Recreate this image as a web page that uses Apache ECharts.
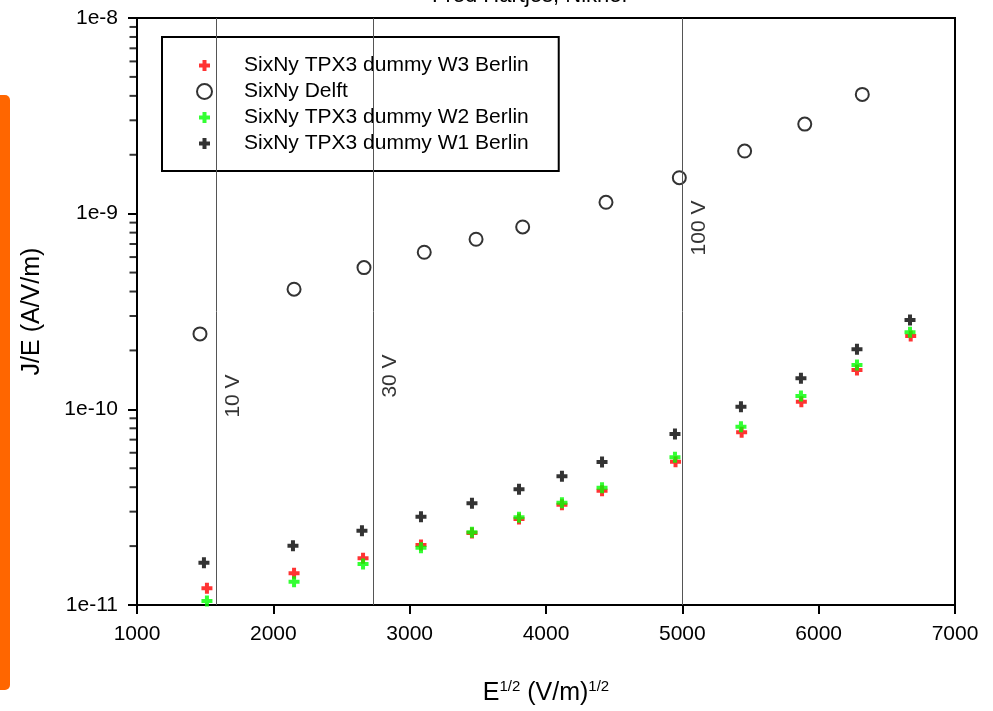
<!DOCTYPE html>
<html><head><meta charset="utf-8">
<script src="https://cdn.jsdelivr.net/npm/echarts@6/dist/echarts.min.js"></script>
<style>html,body{margin:0;padding:0;background:#fff}#c{width:993px;height:711px}</style>
</head><body><div id="c"></div>
<script>
// ---- data ----
const seriesNames = ['SixNy TPX3 dummy W3 Berlin', 'SixNy Delft', 'SixNy TPX3 dummy W2 Berlin', 'SixNy TPX3 dummy W1 Berlin'];
const w3X = [1513, 2152, 2658, 3083, 3457, 3802, 4117, 4411, 4950, 5435, 5873, 6281, 6675];
const w3Y = [1.218e-11, 1.452e-11, 1.733e-11, 2.026e-11, 2.333e-11, 2.752e-11, 3.256e-11, 3.84e-11, 5.40e-11, 7.63e-11, 1.094e-10, 1.589e-10, 2.37e-10];
const delftX = [1462, 2152, 2665, 3107, 3487, 3829, 4440, 4978, 5457, 5898, 6320];
const delftY = [2.43e-10, 4.11e-10, 5.30e-10, 6.35e-10, 7.40e-10, 8.55e-10, 1.143e-9, 1.527e-9, 2.09e-9, 2.87e-9, 4.07e-9];
const w2X = [1513, 2152, 2658, 3083, 3457, 3802, 4117, 4411, 4946, 5430, 5870, 6281, 6670];
const w2Y = [1.048e-11, 1.315e-11, 1.621e-11, 1.963e-11, 2.353e-11, 2.807e-11, 3.333e-11, 3.977e-11, 5.69e-11, 8.15e-11, 1.170e-10, 1.685e-10, 2.475e-10];
const w1X = [1491, 2144, 2650, 3083, 3457, 3802, 4117, 4411, 4946, 5430, 5870, 6281, 6670];
const w1Y = [1.645e-11, 2.009e-11, 2.398e-11, 2.827e-11, 3.31e-11, 3.90e-11, 4.55e-11, 5.38e-11, 7.48e-11, 1.031e-10, 1.441e-10, 2.026e-10, 2.86e-10];
// voltage reference lines
const vLineX = [1580, 2730, 5000];
const vLineLabels = ['10 V', '30 V', '100 V'];
const vLabelY = [1.17e-10, 1.48e-10, 8.45e-10];
// axis ticks
const xTickMin = 1000, xTickMax = 7000, xTickStep = 1000;
const yTickLabels = ['1e-11', '1e-10', '1e-9', '1e-8'];
const yDecades = [-11, -10, -9];
const yMinorMantissas = [2, 3, 4, 5, 6, 7, 8, 9];

const zip = (xs, ys) => xs.map((x, i) => [x, ys[i]]);
const minorVals = [];
yDecades.forEach(d => yMinorMantissas.forEach(m => minorVals.push([xTickMin, m * Math.pow(10, d)])));
const PLUS = 'path://M0,0M15,15M5.5,2h4v3.5h3.5v4h-3.5v3.5h-4v-3.5h-3.5v-4h3.5z';
const FONT = 'Liberation Sans, Arial, sans-serif';

const chart = echarts.init(document.getElementById('c'), null, {renderer: 'canvas'});
chart.setOption({
  animation: false,
  backgroundColor: '#fff',
  title: {
    text: 'Fred Hartjes, Nikhef', left: 432, top: -15, padding: 0,
    textStyle: {fontFamily: FONT, fontSize: 22, fontWeight: 'normal', color: '#000'}
  },
  graphic: [{
    type: 'rect', left: -6, top: 95, shape: {width: 16, height: 595, r: 5},
    style: {fill: '#FF6600'}, silent: true
  }],
  grid: {left: 137, right: 38, top: 18, bottom: 106, show: true, borderColor: '#000', borderWidth: 2, backgroundColor: 'transparent'},
  legend: {
    orient: 'vertical', left: 162, top: 37,
    padding: [18, 30, 17, 34],
    itemWidth: 15, itemHeight: 15, itemGap: 5,
    borderColor: '#000', borderWidth: 2, backgroundColor: '#fff',
    textStyle: {fontFamily: FONT, fontSize: 21, color: '#000', padding: [0, 0, 0, 27]},
    data: seriesNames
  },
  xAxis: {
    type: 'value', min: xTickMin, max: xTickMax, interval: xTickStep,
    name: '{n|E}{s|1/2}{n| (V/m)}{s|1/2}', nameLocation: 'middle', nameGap: 74,
    nameTextStyle: {rich: {
      n: {fontFamily: FONT, fontSize: 25, color: '#000', verticalAlign: 'bottom'},
      s: {fontFamily: FONT, fontSize: 15, color: '#000', verticalAlign: 'bottom', padding: [0, 0, 12, 0]}
    }},
    axisLine: {show: true, lineStyle: {color: '#000', width: 2}},
    axisTick: {show: true, inside: false, length: 9, lineStyle: {color: '#000', width: 2}},
    axisLabel: {fontFamily: FONT, fontSize: 21, color: '#000', margin: 19, formatter: v => String(v)},
    splitLine: {show: false}
  },
  yAxis: {
    type: 'log', logBase: 10, min: 1e-11, max: 1e-8,
    name: 'J/E (A/V/m)', nameLocation: 'middle', nameGap: 92, nameRotate: 90,
    nameTextStyle: {fontFamily: FONT, fontSize: 25, color: '#000'},
    axisLine: {show: true, lineStyle: {color: '#000', width: 2}},
    axisTick: {show: true, inside: false, length: 9, lineStyle: {color: '#000', width: 2}},
    minorTick: {show: false},
    axisLabel: {fontFamily: FONT, fontSize: 21, color: '#000', margin: 19,
      formatter: v => yTickLabels[Math.round(Math.log10(v)) + 11]},
    splitLine: {show: false}, minorSplitLine: {show: false}
  },
  series: [
    {name: seriesNames[0], type: 'scatter', symbol: PLUS, symbolSize: 15, itemStyle: {color: '#FF0000'}, data: zip(w3X, w3Y), z: 3},
    {name: seriesNames[1], type: 'scatter', symbol: 'circle', symbolSize: 13, itemStyle: {color: '#fff', borderColor: '#000', borderWidth: 2}, data: zip(delftX, delftY), z: 3},
    {name: seriesNames[2], type: 'scatter', symbol: PLUS, symbolSize: 15, itemStyle: {color: '#00FF00'}, data: zip(w2X, w2Y), z: 4},
    {name: seriesNames[3], type: 'scatter', symbol: PLUS, symbolSize: 15, itemStyle: {color: '#000'}, data: zip(w1X, w1Y), z: 4},
    {
      name: 'voltage', type: 'scatter', symbolSize: 0, silent: true, z: 2,
      data: vLineX.map((x, i) => ({value: [x, vLabelY[i]], name: vLineLabels[i]})),
      label: {show: true, position: 'inside', rotate: 90, offset: [0, 17], formatter: p => p.name,
        fontFamily: FONT, fontSize: 21, color: '#000'},
      markLine: {
        silent: true, symbol: 'none', animation: false,
        lineStyle: {color: '#555', width: 1, type: 'solid'},
        label: {show: false},
        data: vLineX.map(x => ({xAxis: x}))
      }
    },
    {
      name: 'yMinorTicks', type: 'scatter', silent: true, clip: false, z: 5,
      symbol: 'rect', symbolSize: [7, 2], symbolOffset: [-4, 0],
      itemStyle: {color: '#000'},
      data: minorVals
    }
  ]
});
</script>
</body></html>
